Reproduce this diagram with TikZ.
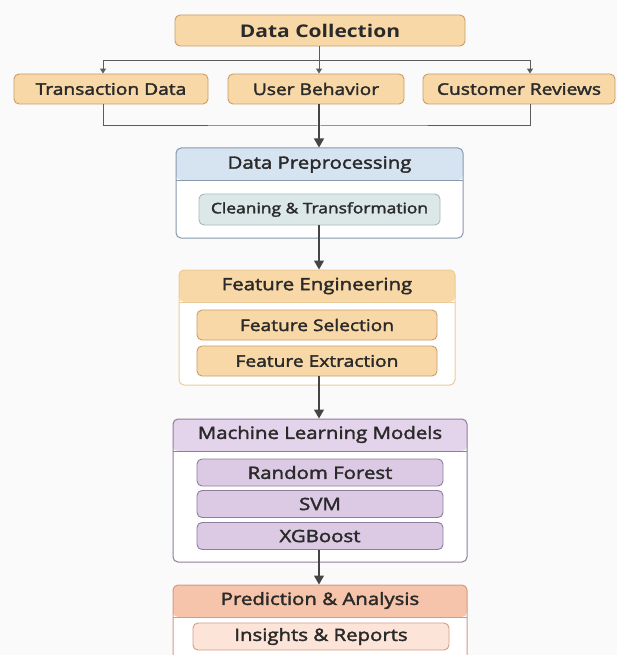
\documentclass[tikz,border=0pt]{standalone}
\usepackage{fontspec}
\setmainfont{Open Sans}
\newfontfamily\semibold[FakeBold=2.2, FakeStretch=1.2]{Open Sans}
\newfontfamily\titlefont[FakeStretch=1.2]{Open Sans}
\usetikzlibrary{arrows.meta,positioning}
\definecolor{PageBack}{HTML}{FAFAFA}
\definecolor{TextDark}{HTML}{2A2A2A}
\definecolor{WireGray}{HTML}{5C5C5C}
\definecolor{ArrowGray}{HTML}{454545}
\definecolor{FillOrange}{HTML}{F8D8A6}
\definecolor{EdgeOrange}{HTML}{C99D6B}
\definecolor{PaleOrangeEdge}{HTML}{EDCB98}
\definecolor{HeadBlue}{HTML}{D6E4F1}
\definecolor{EdgeBlue}{HTML}{8898AD}
\definecolor{FillTeal}{HTML}{DCE8E8}
\definecolor{EdgeTeal}{HTML}{A6B9BA}
\definecolor{HeadLilac}{HTML}{E3D4EB}
\definecolor{FillLilac}{HTML}{DCCAE4}
\definecolor{EdgeLilac}{HTML}{8F7D9E}
\definecolor{HeadSalmon}{HTML}{F6C3AB}
\definecolor{FillSalmon}{HTML}{FCE4D8}
\definecolor{EdgeSalmon}{HTML}{D49B84}

\begin{document}
\begin{tikzpicture}[
    x=1pt, y=-1pt,
    leaf/.style 2 args={draw=#1, fill=#2, line width=0.9pt, rounded corners=5pt, inner sep=0pt, text=TextDark, font=\fontsize{16}{19}\selectfont\semibold},
    panel/.style 2 args={draw=#1, fill=white, line width=1pt, rounded corners=5pt, inner sep=0pt,
        path picture={
            \fill[#2] (path picture bounding box.north west) rectangle ([yshift=-32pt]path picture bounding box.north east);
            \draw[#1, line width=1pt] ([yshift=-32pt]path picture bounding box.north west) -- ([yshift=-32pt]path picture bounding box.north east);
        }},
    head/.style={text=TextDark, font=\fontsize{17}{20}\selectfont\semibold},
    wire/.style={draw=WireGray, line width=1pt},
    smallarrow/.style={wire, -{Triangle[length=5pt,width=6pt]}},
    arrow/.style={draw=ArrowGray, line width=1.2pt, -{Triangle[length=9pt,width=10pt]}}
]
\useasboundingbox (0,0) rectangle (617,655);
\clip (0,0) rectangle (617,655);
\fill[PageBack] (0,0) rectangle (617,655);

% === DATA COLLECTION ===
\node[leaf={EdgeOrange}{FillOrange}, minimum width=290pt, minimum height=31pt, font=\fontsize{17.5}{20}\selectfont\titlefont\bfseries] (dc) at (320,30.5) {Data Collection};

\node[leaf={EdgeOrange}{FillOrange}, minimum width=194pt, minimum height=30pt] (td) at (111,89) {Transaction Data};
\node[leaf={EdgeOrange}{FillOrange}, minimum width=176pt, minimum height=30pt] (ub) at (316,89) {User Behavior};
\node[leaf={EdgeOrange}{FillOrange}, minimum width=192pt, minimum height=30pt] (cr) at (519,89) {Customer Reviews};

\coordinate (split) at (319,61);
\coordinate (join) at (319,126);

\draw[wire] (dc.south -| split) -- (split);
\draw[smallarrow] (split) -| ([xshift=-8pt]td.north);
\draw[smallarrow] (split) -- (split |- ub.north);
\draw[smallarrow] (split) -| ([xshift=11pt]cr.north);
\draw[wire] ([xshift=-8pt]td.south) |- (join) -| ([xshift=11pt]cr.south);

% === DATA PREPROCESSING ===
\node[panel={EdgeBlue}{HeadBlue}, minimum width=287pt, minimum height=90pt] (dp) at (319.5,193) {};
\node[head] (dpT) at (319.5,164.5) {Data Preprocessing};
\node[leaf={EdgeTeal}{FillTeal}, minimum width=241pt, minimum height=31pt, font=\fontsize{14.5}{17}\selectfont\semibold] (clean) at (319.5,209.5) {Cleaning \& Transformation};

\draw[arrow] (split |- ub.south) -- (split |- dp.north);

% === FEATURE ENGINEERING ===
\node[panel={PaleOrangeEdge}{FillOrange}, minimum width=276pt, minimum height=115pt] (fe) at (317,327.5) {};
\node[head] (feT) at (317,286) {Feature Engineering};
\node[leaf={EdgeOrange}{FillOrange}, minimum width=240pt, minimum height=30pt] (fsel) at (317,325) {Feature Selection};
\node[leaf={EdgeOrange}{FillOrange}, minimum width=240pt, minimum height=30pt] (fext) at (317,361) {Feature Extraction};

\draw[arrow] (clean.south -| split) -- (fe.north -| split);

% === MACHINE LEARNING MODELS ===
\node[panel={EdgeLilac}{HeadLilac}, minimum width=294pt, minimum height=143pt] (ml) at (320,490.5) {};
\node[head] (mlT) at (320,434.5) {Machine Learning Models};
\node[leaf={EdgeLilac}{FillLilac}, minimum width=246pt, minimum height=27pt, font=\fontsize{17}{20}\selectfont\semibold] (rf) at (320,472.5) {Random Forest};
\node[leaf={EdgeLilac}{FillLilac}, minimum width=246pt, minimum height=27pt, font=\fontsize{17}{20}\selectfont\semibold] (svm) at (320,504) {SVM};
\node[leaf={EdgeLilac}{FillLilac}, minimum width=246pt, minimum height=27pt, font=\fontsize{17}{20}\selectfont\semibold] (xgb) at (320,536) {XGBoost};

\draw[arrow] (fext.south -| split) -- (ml.north -| split);

% === PREDICTION & ANALYSIS ===
\node[panel={EdgeSalmon}{HeadSalmon}, minimum width=294pt, minimum height=105pt] (pa) at (320,637.5) {};
\node[head] (paT) at (320,600.5) {Prediction \& Analysis};
\node[leaf={EdgeSalmon}{FillSalmon}, minimum width=256pt, minimum height=27pt, font=\fontsize{17}{20}\selectfont\semibold] (ins) at (321,636.5) {Insights \& Reports};

\draw[arrow] (xgb.south -| split) -- (pa.north -| split);

\end{tikzpicture}
\end{document}
